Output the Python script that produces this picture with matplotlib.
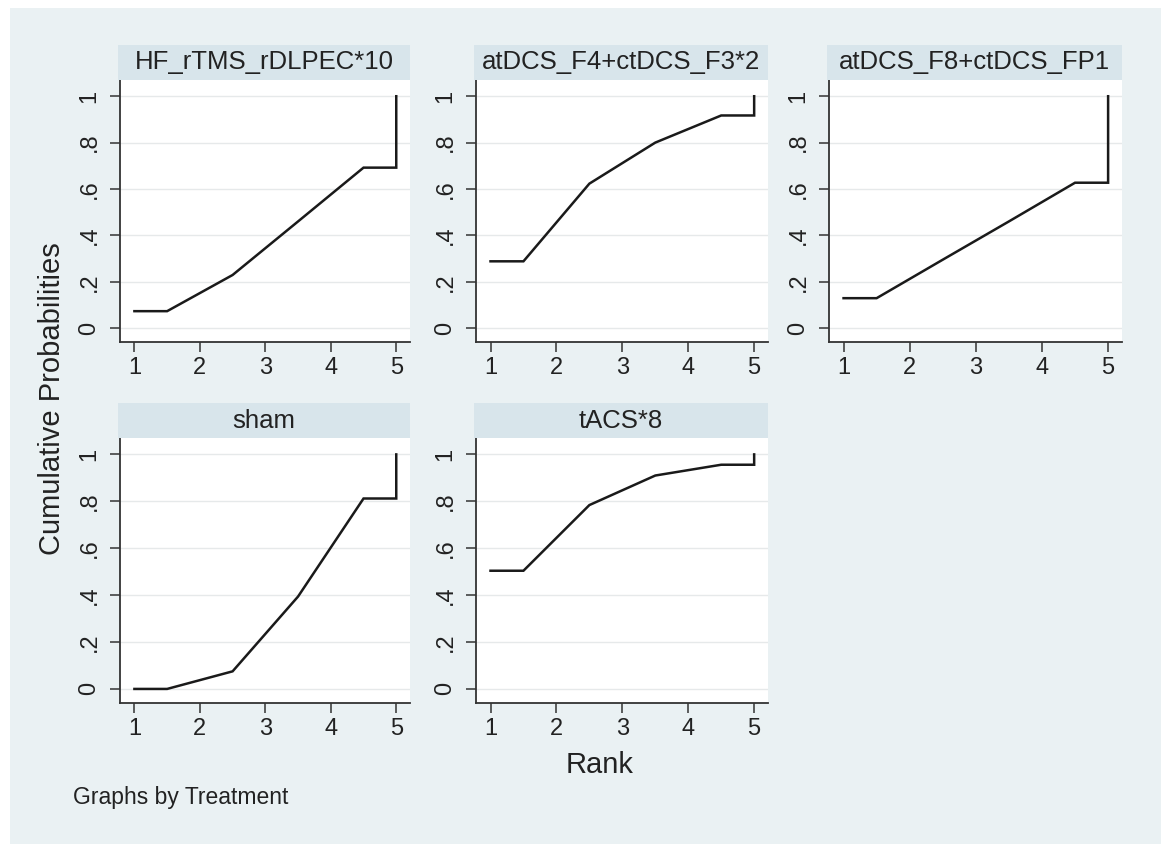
import matplotlib
matplotlib.use("Agg")
import matplotlib.pyplot as plt
from matplotlib.patches import Rectangle

# ---- data ----
treatments = ["HF_rTMS_rDLPEC*10", "atDCS_F4+ctDCS_F3*2", "atDCS_F8+ctDCS_FP1", "sham", "tACS*8"]
# cumulative probability of being within rank 1..5
cum_hf = [0.073, 0.229, 0.46, 0.692, 1.0]
cum_f4 = [0.288, 0.623, 0.80, 0.917, 1.0]
cum_f8 = [0.129, 0.295, 0.46, 0.627, 1.0]
cum_sham = [0.0, 0.075, 0.394, 0.812, 1.0]
cum_tacs = [0.504, 0.784, 0.91, 0.956, 1.0]
series = [cum_hf, cum_f4, cum_f8, cum_sham, cum_tacs]
ranks = [1, 2, 3, 4, 5]
yticks = [0, 0.2, 0.4, 0.6, 0.8, 1.0]
ytick_labels = ["0", ".2", ".4", ".6", ".8", "1"]

plt.rcParams['font.family'] = ['Liberation Sans', 'DejaVu Sans']

W, H = 1170, 855
fig = plt.figure(figsize=(W / 100, H / 100), dpi=100, facecolor="white")

BG = "#eaf1f3"
STRIP = "#d8e5eb"
fig.patches.append(Rectangle((10 / W, 1 - 844 / H), (1161 - 10) / W, (844 - 8) / H,
                             transform=fig.transFigure, facecolor=BG, edgecolor="none", zorder=-10))

def px_axes(left, top, right, bottom):
    return [left / W, 1 - bottom / H, (right - left) / W, (bottom - top) / H]

cols = [(120, 410), (476, 768), (829, 1122)]
rows = [(80, 342), (438, 703)]
strip_h = 35

for i, (name, cum) in enumerate(zip(treatments, series)):
    r, c = divmod(i, 3)
    l, rgt = cols[c]
    t, b = rows[r]
    ax = fig.add_axes(px_axes(l, t, rgt, b))
    ax.set_facecolor("white")
    # step-connected cumulative ranking curve
    xs = [ranks[0], ranks[0] + 0.5, ranks[1] + 0.5, ranks[2] + 0.5, ranks[3] + 0.5, ranks[4], ranks[4]]
    ys = [cum[0], cum[0], cum[1], cum[2], cum[3], cum[3], cum[4]]
    ax.plot(xs, ys, color="#1a1a1a", lw=1.8, solid_joinstyle="miter", zorder=3)
    ax.set_xlim(0.78, 5.21)
    ax.set_ylim(-0.06, 1.07)
    ax.set_xticks(ranks)
    ax.set_yticks(yticks)
    ax.set_yticklabels(ytick_labels, rotation=90, va="center")
    ax.grid(axis="y", color="#e6e9ea", lw=1.0)
    ax.grid(axis="x", visible=False)
    for s in ["top", "right"]:
        ax.spines[s].set_visible(False)
    for s in ["left", "bottom"]:
        ax.spines[s].set_color("#333333")
        ax.spines[s].set_linewidth(1.3)
    ax.tick_params(axis="both", direction="out", length=7, width=1.1, color="#333333",
                   labelsize=17, labelcolor="#222222")
    ax.tick_params(axis="y", pad=7)
    ax.tick_params(axis="x", pad=4)
    # strip
    sax = fig.add_axes(px_axes(l - 2, t - strip_h, rgt, t))
    sax.set_facecolor(STRIP)
    sax.set_xticks([]); sax.set_yticks([])
    for s in sax.spines.values():
        s.set_visible(False)
    sax.text(0.5, 0.5, name, ha="center", va="center", fontsize=18.5, color="#222222",
             transform=sax.transAxes)

fig.text(52 / W, 1 - 399 / H, "Cumulative Probabilities", rotation=90, ha="center", va="center",
         fontsize=21, color="#222222")
fig.text(600 / W, 1 - 765 / H, "Rank", ha="center", va="center", fontsize=21, color="#222222")
fig.text(73 / W, 1 - 797 / H, "Graphs by Treatment", ha="left", va="center", fontsize=16.5, color="#222222")

fig.savefig("out.png", dpi=100, facecolor="white")
